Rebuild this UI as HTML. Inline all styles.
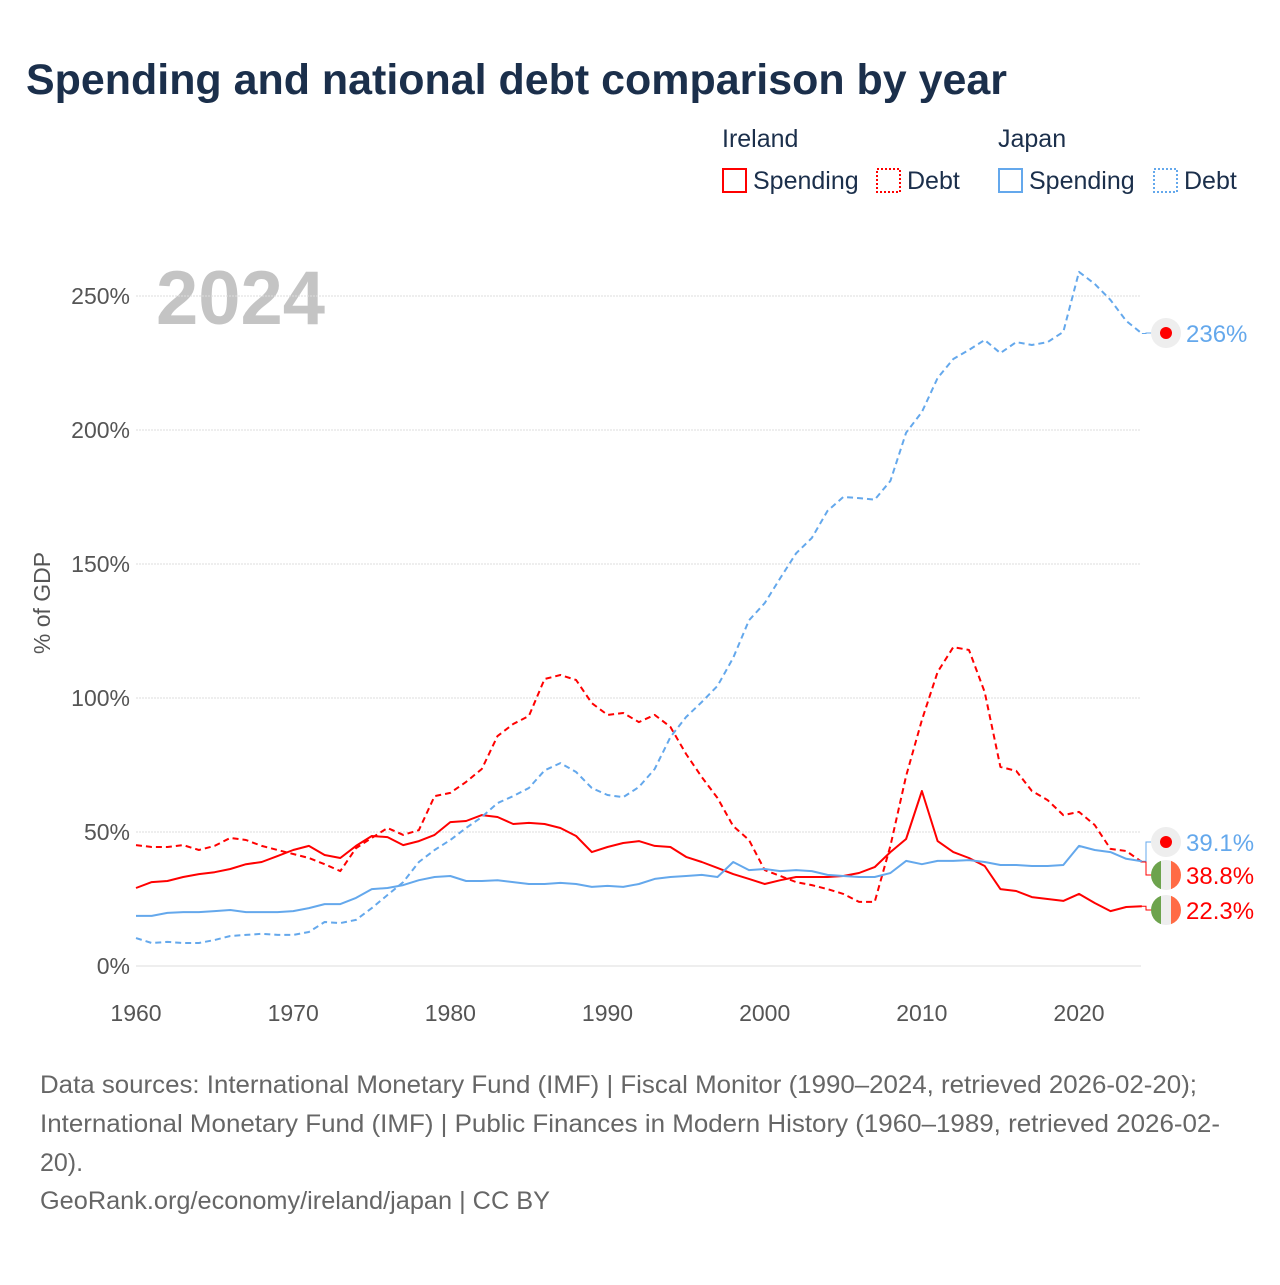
<!DOCTYPE html>
<html><head><meta charset="utf-8"><style>
body{margin:0;background:#fff;width:1280px;height:1280px;overflow:hidden;font-family:"Liberation Sans",sans-serif}
</style></head><body>
<svg width="1280" height="1280" viewBox="0 0 1280 1280" font-family="Liberation Sans, sans-serif">
<text x="26" y="94" font-size="43" font-weight="bold" fill="#1b2f4b" textLength="981" lengthAdjust="spacingAndGlyphs">Spending and national debt comparison by year</text>
<g font-size="25" fill="#1b2f4b">
<text x="722" y="147">Ireland</text>
<text x="998" y="147">Japan</text>
<g><rect x="723" y="169" width="23" height="23" fill="none" stroke="#f00" stroke-width="2"/><text x="753" y="189">Spending</text></g>
<g><rect x="877" y="169" width="23" height="23" fill="none" stroke="#f00" stroke-width="2" stroke-dasharray="2,2"/><text x="907" y="189">Debt</text></g>
<g><rect x="999" y="169" width="23" height="23" fill="none" stroke="#64a8ec" stroke-width="2"/><text x="1029" y="189">Spending</text></g>
<g><rect x="1154" y="169" width="23" height="23" fill="none" stroke="#64a8ec" stroke-width="2" stroke-dasharray="2,2"/><text x="1184" y="189">Debt</text></g>
</g>
<text x="156" y="324" font-size="76" font-weight="bold" fill="#c4c4c4">2024</text>
<text transform="translate(50,603) rotate(-90)" text-anchor="middle" font-size="23" fill="#555">% of GDP</text>
<g id="grid"></g><g id="axes"></g><g id="lines"></g><g id="ends"></g>
<g font-size="25" fill="#666">
<text x="40" y="1093" textLength="1157" lengthAdjust="spacingAndGlyphs">Data sources: International Monetary Fund (IMF) | Fiscal Monitor (1990–2024, retrieved 2026-02-20);</text>
<text x="40" y="1132" textLength="1180" lengthAdjust="spacingAndGlyphs">International Monetary Fund (IMF) | Public Finances in Modern History (1960–1989, retrieved 2026-02-</text>
<text x="40" y="1171">20).</text>
<text x="40" y="1209" textLength="510" lengthAdjust="spacingAndGlyphs">GeoRank.org/economy/ireland/japan | CC BY</text>
</g>
</svg>
<script>
const yearStart=1960;
const yTicks=[0,50,100,150,200,250];
const xTicks=[1960,1970,1980,1990,2000,2010,2020];
const japanDebt=[10.4,8.6,9,8.6,8.6,9.7,11.2,11.6,12,11.6,11.6,12.7,16.4,16,17.2,21.6,26.5,31.3,38.8,43.3,47,51.5,55.6,60.8,63.4,66.4,73,75.7,72.4,66.4,63.8,63,66.8,73.5,85.4,92.9,98.5,104.5,115,129,135.4,144.8,154,159.7,169.8,175,174.6,174,181,199,206.7,219.4,226.5,229.9,233.6,228.7,232.8,231.7,232.8,236.6,259,254.5,248.5,240.7,236];
const japanSpending=[18.7,18.7,19.8,20.1,20.1,20.5,20.9,20.1,20.1,20.1,20.5,21.6,23.1,23.1,25.4,28.7,29.1,30.2,32,33.2,33.6,31.7,31.7,32,31.3,30.6,30.6,31,30.6,29.5,29.9,29.5,30.6,32.5,33.2,33.6,34,33.2,38.8,35.8,36.2,35.4,35.8,35.4,34,33.6,33.2,33.2,34.7,39.2,38,39.2,39.2,39.5,38.8,37.7,37.7,37.3,37.3,37.7,44.8,43.3,42.5,40,39.1];
const irelandSpending=[29.1,31.3,31.7,33.2,34.3,35,36.2,38,38.8,41,43.3,44.8,41.4,40.3,44.8,48.5,48.1,45.1,46.6,48.9,53.7,54.1,56.3,55.6,53,53.4,53,51.5,48.5,42.5,44.4,45.9,46.6,44.8,44.4,40.7,38.8,36.6,34.3,32.5,30.6,32,33.2,33.2,33.2,33.6,34.7,36.9,42.5,47.4,65.3,46.6,42.5,40.3,37.3,28.7,28,25.7,25,24.3,26.9,23.5,20.5,22,22.3];
const irelandDebt=[45.1,44.4,44.4,45.1,43.3,44.8,47.8,47,44.8,43.3,41.8,40.3,38,35.4,44,47.8,51.5,48.9,50.7,63.4,64.6,68.7,73.5,85.8,90.3,93.3,107.1,108.6,106.7,98.1,93.7,94.4,91,93.7,89.2,79.1,70.5,62.7,52.2,47,35.8,33.6,31.3,30.2,28.7,26.9,23.9,23.9,44.8,70.9,91.8,109.7,119,117.9,102.2,74.3,72.8,65.3,61.9,56.3,57.5,52.6,43.7,42.9,38.8];
const NS='http://www.w3.org/2000/svg';
const X=y=>136+(y-1960)*15.717, Y=v=>966-v*2.68;
function mk(tag,attrs,parent){const e=document.createElementNS(NS,tag);for(const k in attrs)e.setAttribute(k,attrs[k]);parent.appendChild(e);return e;}
const grid=document.getElementById('grid'),axes=document.getElementById('axes'),lines=document.getElementById('lines'),ends=document.getElementById('ends');
yTicks.forEach(t=>{
 const l=mk('line',{x1:136,x2:1141,y1:Y(t),y2:Y(t),stroke:'#ddd','stroke-width':1,'stroke-dasharray':t?'2,1':''},grid);
 
 
 const tx=mk('text',{x:130,y:Y(t)+8,'text-anchor':'end','font-size':23,fill:'#555'},axes);tx.textContent=t+'%';
 
 
});
xTicks.forEach(t=>{
 const tx=mk('text',{x:X(t),y:1021,'text-anchor':'middle','font-size':23,fill:'#555'},axes);tx.textContent=t;
 
 
});
function series(arr,color,dash,name){
 const d=arr.map((v,i)=>(i?'L':'M')+X(yearStart+i).toFixed(1)+','+Y(v).toFixed(1)).join('');
 const p=mk('path',{d:d,fill:'none',stroke:color,'stroke-width':2,'stroke-dasharray':dash,'stroke-linejoin':'round'},lines);
 
 
}
series(irelandSpending,'#f00','','line-ireland-spending');
series(irelandDebt,'#f00','6,4','line-ireland-debt');
series(japanSpending,'#64a8ec','','line-japan-spending');
series(japanDebt,'#64a8ec','6,4','line-japan-debt');
const last=a=>a[a.length-1];
const xe=X(yearStart+japanDebt.length-1);
function endLabel(v,ly,color,flag,name,text){
 mk('path',{d:`M${xe},${Y(v)}H1146V${ly}H1152`,fill:'none',stroke:color,'stroke-width':1},ends);
 const g=mk('g',{},ends);
 
 
 if(flag==='jp'){mk('circle',{cx:1166,cy:ly,r:15,fill:'#eee'},g);mk('circle',{cx:1166,cy:ly,r:6,fill:'#f00'},g);}
 else{const cp='clip'+name;const c=mk('clipPath',{id:cp},g);mk('circle',{cx:1166,cy:ly,r:15},c);
  const gg=mk('g',{'clip-path':`url(#${cp})`},g);
  mk('rect',{x:1151,y:ly-15,width:10,height:30,fill:'#6da34d'},gg);mk('rect',{x:1161,y:ly-15,width:10,height:30,fill:'#eee'},gg);mk('rect',{x:1171,y:ly-15,width:10,height:30,fill:'#ff6b45'},gg);}
 const t=mk('text',{x:1186,y:ly+9,'font-size':24,fill:color},g);t.textContent=text;
}
endLabel(last(japanDebt),333,'#64a8ec','jp','end-label-japan-debt','236%');
endLabel(last(japanSpending),842,'#64a8ec','jp','end-label-japan-spending','39.1%');
endLabel(last(irelandDebt),875,'#f00','ie','end-label-ireland-debt','38.8%');
endLabel(last(irelandSpending),910,'#f00','ie','end-label-ireland-spending','22.3%');
</script>
</body></html>
